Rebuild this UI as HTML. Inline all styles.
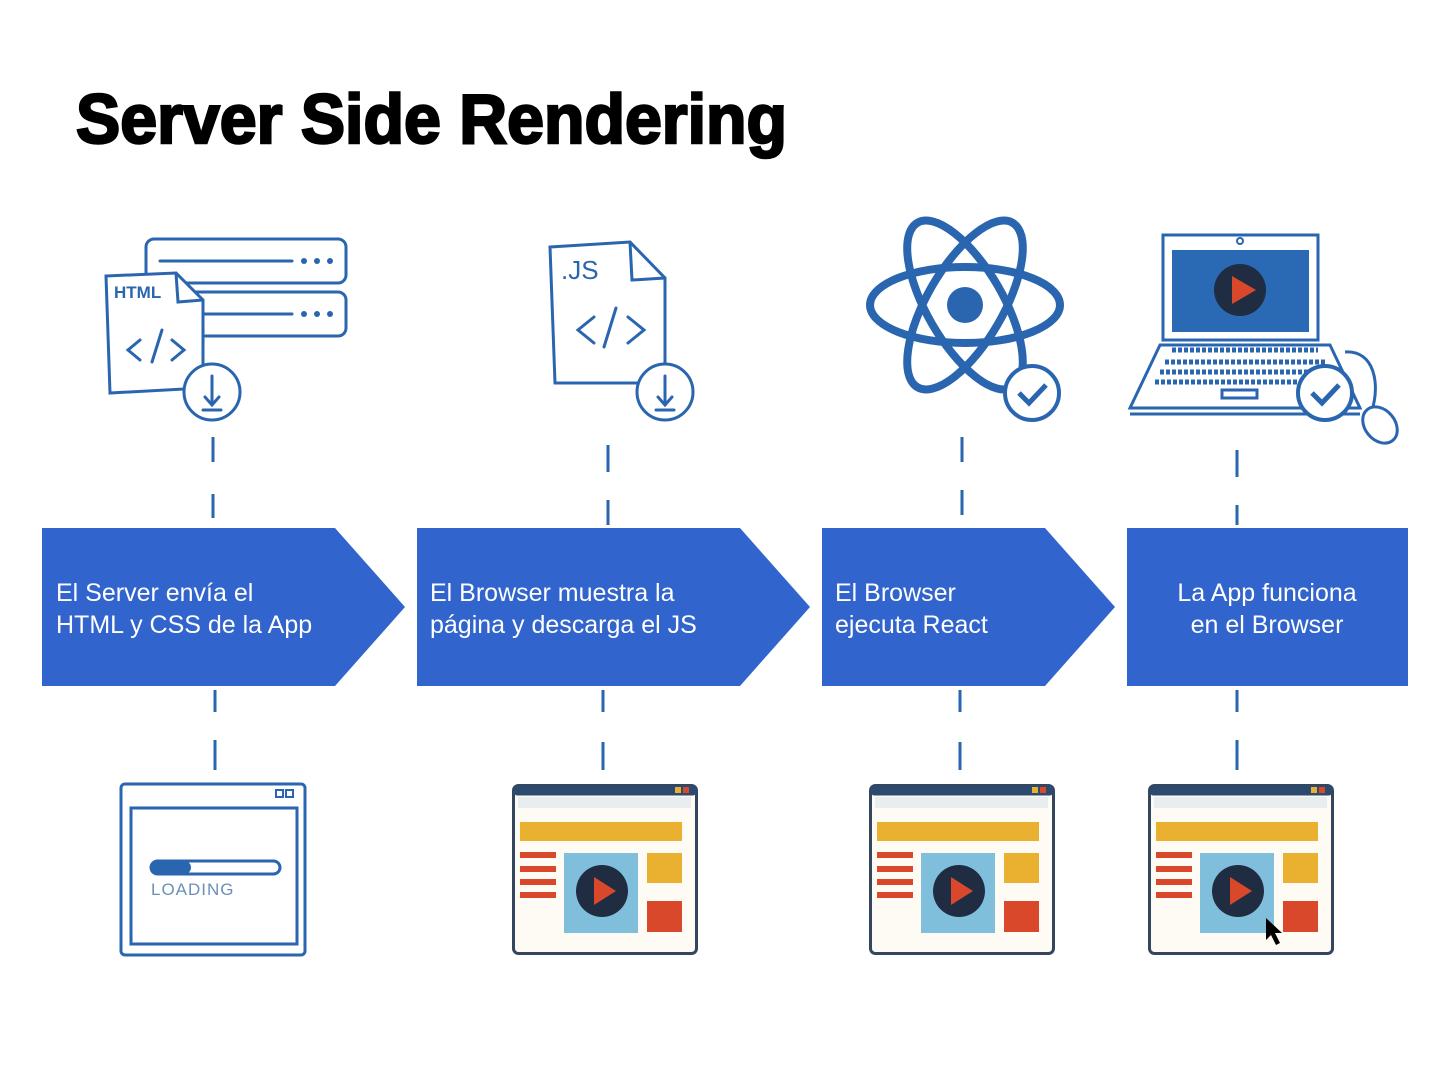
<!DOCTYPE html>
<html><head><meta charset="utf-8"><style>
html,body{margin:0;padding:0;background:#fff;}
svg{display:block}
</style></head><body>
<svg width="1454" height="1090" viewBox="0 0 1454 1090" xmlns="http://www.w3.org/2000/svg">
<defs>
<g id="br">
  <rect x="1.5" y="1.5" width="183" height="168" rx="5" fill="#fdfbf3" stroke="#34465e" stroke-width="3"/>
  <rect x="1.5" y="1.5" width="183" height="10" rx="4" fill="#2b4a6e"/>
  <rect x="163" y="3" width="6" height="6" fill="#e8b030"/><rect x="171" y="3" width="6" height="6" fill="#d9482b"/>
  <rect x="6" y="13" width="173" height="11" fill="#e8eef0"/>
  <rect x="8" y="38" width="162" height="19" fill="#eab030"/>
  <rect x="8" y="68" width="36" height="6" fill="#d9482b"/>
  <rect x="8" y="82" width="36" height="6" fill="#d9482b"/>
  <rect x="8" y="95" width="36" height="6" fill="#d9482b"/>
  <rect x="8" y="108" width="36" height="6" fill="#d9482b"/>
  <rect x="52" y="69" width="74" height="80" fill="#7fbfdc"/>
  <circle cx="90" cy="107" r="26" fill="#1f2c42"/>
  <polygon points="82,93 82,121 104,107" fill="#d9482b"/>
  <rect x="135" y="69" width="35" height="30" fill="#eab030"/>
  <rect x="135" y="117" width="35" height="31" fill="#d9482b"/>
</g>
</defs>

<text x="76" y="143" font-family="Liberation Sans, sans-serif" font-weight="bold" font-size="70" textLength="711" lengthAdjust="spacingAndGlyphs" fill="#000" stroke="#000" stroke-width="2.5">Server Side Rendering</text>

<g fill="#3164cc">
<polygon points="42,528 335,528 405,607 335,686 42,686"/>
<polygon points="417,528 740,528 810,607 740,686 417,686"/>
<polygon points="822,528 1045,528 1115,607 1045,686 822,686"/>
<rect x="1127" y="528" width="281" height="158"/>
</g>
<g font-family="Liberation Sans, sans-serif" font-size="25" fill="#fff">
<text x="56" y="601">El Server envía el</text><text x="56" y="633">HTML y CSS de la App</text>
<text x="430" y="601">El Browser muestra la</text><text x="430" y="633">página y descarga el JS</text>
<text x="835" y="601">El Browser</text><text x="835" y="633">ejecuta React</text>
<text x="1267" y="601" text-anchor="middle">La App funciona</text><text x="1267" y="633" text-anchor="middle">en el Browser</text>
</g>

<g stroke="#2a66b0" stroke-width="3">
<line x1="213" y1="437" x2="213" y2="462"/><line x1="213" y1="494" x2="213" y2="518"/>
<line x1="215" y1="690" x2="215" y2="712"/><line x1="215" y1="740" x2="215" y2="770"/>
<line x1="608" y1="445" x2="608" y2="472"/><line x1="608" y1="500" x2="608" y2="525"/>
<line x1="603" y1="690" x2="603" y2="712"/><line x1="603" y1="742" x2="603" y2="770"/>
<line x1="962" y1="437" x2="962" y2="462"/><line x1="962" y1="490" x2="962" y2="515"/>
<line x1="960" y1="690" x2="960" y2="712"/><line x1="960" y1="742" x2="960" y2="770"/>
<line x1="1237" y1="450" x2="1237" y2="477"/><line x1="1237" y1="505" x2="1237" y2="525"/>
<line x1="1237" y1="690" x2="1237" y2="712"/><line x1="1237" y1="740" x2="1237" y2="770"/>
</g>

<g fill="none" stroke="#2a66b0" stroke-width="3" stroke-linecap="round">
<rect x="146" y="239" width="200" height="44" rx="8" fill="#fff"/>
<rect x="146" y="292" width="200" height="44" rx="8" fill="#fff"/>
<line x1="160" y1="261" x2="292" y2="261"/><line x1="200" y1="314" x2="292" y2="314"/>
<polygon points="106,276 176,273 203,300 203,388 110,393" fill="#fff"/>
<polyline points="176,273 178,302 203,300"/>
<path d="M140 340 L128 350 L140 360 M152 362 L162 330 M172 340 L184 350 L172 360"/>
<circle cx="212" cy="392" r="28" fill="#fff"/>
<line x1="212" y1="376" x2="212" y2="404"/><path d="M205 397 L212 405 L219 397"/><line x1="203" y1="410" x2="221" y2="410"/>
</g>
<g fill="#2a66b0"><circle cx="304" cy="261" r="3"/><circle cx="317" cy="261" r="3"/><circle cx="330" cy="261" r="3"/>
<circle cx="304" cy="314" r="3"/><circle cx="317" cy="314" r="3"/><circle cx="330" cy="314" r="3"/></g>
<text x="114" y="298" font-family="Liberation Sans, sans-serif" font-weight="bold" font-size="17" fill="#2a66b0">HTML</text>

<g fill="none" stroke="#2a66b0" stroke-width="3" stroke-linecap="round">
<polygon points="550,247 630,242 665,278 665,383 555,383" fill="#fff"/>
<polyline points="630,242 632,280 665,278"/>
<path d="M594 317 L578 330 L594 343 M604 347 L616 308 M628 317 L644 330 L628 343"/>
<circle cx="665" cy="392" r="28" fill="#fff"/>
<line x1="665" y1="376" x2="665" y2="404"/><path d="M658 397 L665 405 L672 397"/><line x1="656" y1="410" x2="674" y2="410"/>
</g>
<text x="561" y="279" font-family="Liberation Sans, sans-serif" font-size="26" fill="#2a66b0">.JS</text>

<g fill="none" stroke="#2a66b0" stroke-width="8">
<ellipse cx="965" cy="305" rx="95" ry="38"/>
<ellipse cx="965" cy="305" rx="95" ry="38" transform="rotate(60 965 305)"/>
<ellipse cx="965" cy="305" rx="95" ry="38" transform="rotate(-60 965 305)"/>
</g>
<circle cx="965" cy="305" r="18" fill="#2a66b0"/>
<circle cx="1032" cy="393" r="27" fill="#fff" stroke="#2a66b0" stroke-width="4"/>
<path d="M1019 393 L1029 403 L1046 385" fill="none" stroke="#2a66b0" stroke-width="5"/>

<g fill="none" stroke="#2a66b0" stroke-width="3">
<rect x="1163" y="235" width="155" height="105" fill="#fff"/>
<rect x="1172" y="250" width="137" height="82" fill="#2a6ab4" stroke="none"/>
<polygon points="1160,345 1330,345 1360,408 1130,408" fill="#fff"/>
<line x1="1130" y1="414" x2="1360" y2="414"/>
<rect x="1222" y="390" width="35" height="8"/>
<path d="M1345 352 C1375 350 1380 385 1372 410" />
<ellipse cx="1380" cy="425" rx="15" ry="20" transform="rotate(-40 1380 425)" fill="#fff"/>
</g>
<g stroke="#2a66b0" stroke-width="5" stroke-dasharray="4 2">
<line x1="1172" y1="350" x2="1318" y2="350"/>
<line x1="1165" y1="362" x2="1325" y2="362"/>
<line x1="1160" y1="372" x2="1330" y2="372"/>
<line x1="1155" y1="382" x2="1335" y2="382"/>
</g>
<circle cx="1240" cy="241" r="3" fill="none" stroke="#2a66b0" stroke-width="2"/>
<circle cx="1240" cy="290" r="26" fill="#1f2c42"/>
<polygon points="1232,276 1232,304 1256,290" fill="#d9482b"/>
<circle cx="1325" cy="393" r="27" fill="#fff" stroke="#2a66b0" stroke-width="4"/>
<path d="M1312 393 L1322 403 L1339 385" fill="none" stroke="#2a66b0" stroke-width="5"/>

<g fill="none" stroke="#2a66b0" stroke-width="3">
<rect x="121" y="784" width="184" height="171" rx="4" fill="#fff"/>
<rect x="131" y="808" width="166" height="136"/>
<rect x="276" y="790" width="7" height="7" stroke-width="2"/><rect x="286" y="790" width="7" height="7" stroke-width="2"/>
<rect x="151" y="861" width="129" height="13" rx="6.5"/>
</g>
<rect x="151" y="861" width="40" height="13" rx="6.5" fill="#2a66b0"/>
<text x="151" y="895" font-family="Liberation Sans, sans-serif" font-size="17" fill="#6b8fb8" letter-spacing="1">LOADING</text>

<use href="#br" x="512" y="784"/>
<use href="#br" x="869" y="784"/>
<use href="#br" x="1148" y="784"/>
<polygon points="1266,918 1266,940 1271,935 1276,945 1280,943 1275,933 1282,933" fill="#000"/>
</svg>
</body></html>
